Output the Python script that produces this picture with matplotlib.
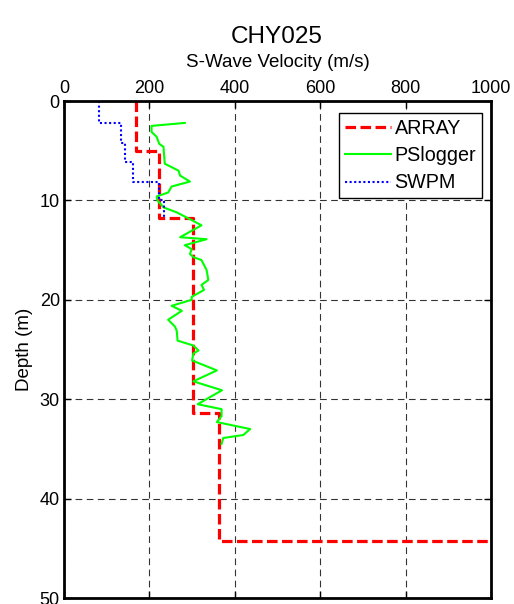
"""
S-wave velocity profiles for station CHY025.
"""
import matplotlib
matplotlib.use('Agg')
import matplotlib.pyplot as plt

plt.rcParams['font.family'] = ['Liberation Sans', 'DejaVu Sans']

# ARRAY model (step profile)
array_vel = [169, 169, 222, 222, 303, 303, 362, 362, 1000]
array_dep = [0, 5.0, 5.0, 11.75, 11.75, 31.4, 31.4, 44.3, 44.3]

# SWPM model (step profile)
swpm_vel = [83, 83, 133, 133, 144, 144, 161, 161, 222, 222, 235, 235]
swpm_dep = [0, 2.2, 2.2, 4.2, 4.2, 6.1, 6.1, 8.1, 8.1, 10.0, 10.0, 11.75]

# PS logger measurements
ps_dep = [2.2, 2.5, 3.1, 3.6, 4.3, 4.6, 6.3, 7.0, 7.5, 8.1, 8.6, 9.2, 9.6, 10.0,
          10.7, 11.2, 11.8, 12.5, 13.7, 13.9, 14.5, 14.9, 15.4, 15.7, 16.0, 17.0,
          18.0, 18.5, 19.0, 19.7, 20.0, 20.6, 21.1, 22.0, 22.7, 23.1, 24.1, 24.6,
          25.1, 25.4, 26.1, 27.1, 28.2, 29.1, 30.5, 31.0, 31.7, 32.3, 33.0, 33.6,
          33.9, 34.5]
ps_vel = [283, 205, 205, 217, 223, 233, 236, 268, 272, 295, 252, 244, 217, 219,
          233, 264, 291, 322, 272, 334, 283, 299, 295, 303, 322, 334,
          338, 322, 328, 299, 299, 252, 276, 244, 260, 264, 266, 303,
          315, 303, 300, 358, 303, 370, 313, 369, 369, 358, 436, 420,
          373, 369]

fig = plt.figure(figsize=(5.14, 6.04), dpi=100)
ax = fig.add_axes([0.1245, 0.0099, 0.8307, 0.8228])

ax.plot(array_vel, array_dep, color='red', linestyle=(0, (3.3, 1.4)), linewidth=2.3, label='ARRAY')
ax.plot(ps_vel, ps_dep, color='#00ff00', linewidth=1.5, label='PSlogger')
ax.plot(swpm_vel, swpm_dep, color='blue', linestyle=(0, (1, 1.2)), linewidth=1.5, label='SWPM')

ax.set_xlim(0, 1000)
ax.set_ylim(50, 0)
ax.set_xticks([0, 200, 400, 600, 800, 1000])
ax.set_yticks([0, 10, 20, 30, 40, 50])
ax.xaxis.tick_top()
ax.xaxis.set_label_position('top')
ax.tick_params(direction='in', length=5, width=1, labelsize=13, pad=3)
ax.tick_params(axis='x', top=True, bottom=True)
ax.tick_params(axis='y', left=True, right=True)
ax.grid(True, color='black', linestyle=(0, (6, 4)), linewidth=0.8, alpha=0.8)
for s in ax.spines.values():
    s.set_linewidth(2)

ax.set_xlabel('S-Wave Velocity (m/s)', fontsize=13.5, labelpad=9)
ax.set_ylabel('Depth (m)', fontsize=13.5, labelpad=5)
fig.text(0.539, 1 - 37 / 604, 'CHY025', fontsize=17.5, ha='center', va='center')

leg = ax.legend(loc='upper right', bbox_to_anchor=(0.979, 0.976), borderaxespad=0,
                fontsize=14.2, frameon=True, fancybox=False, edgecolor='black', framealpha=1,
                handlelength=2.3, handletextpad=0.2, borderpad=0.3, labelspacing=0.42)
leg.get_frame().set_linewidth(1)

fig.savefig('out.png', dpi=100)
